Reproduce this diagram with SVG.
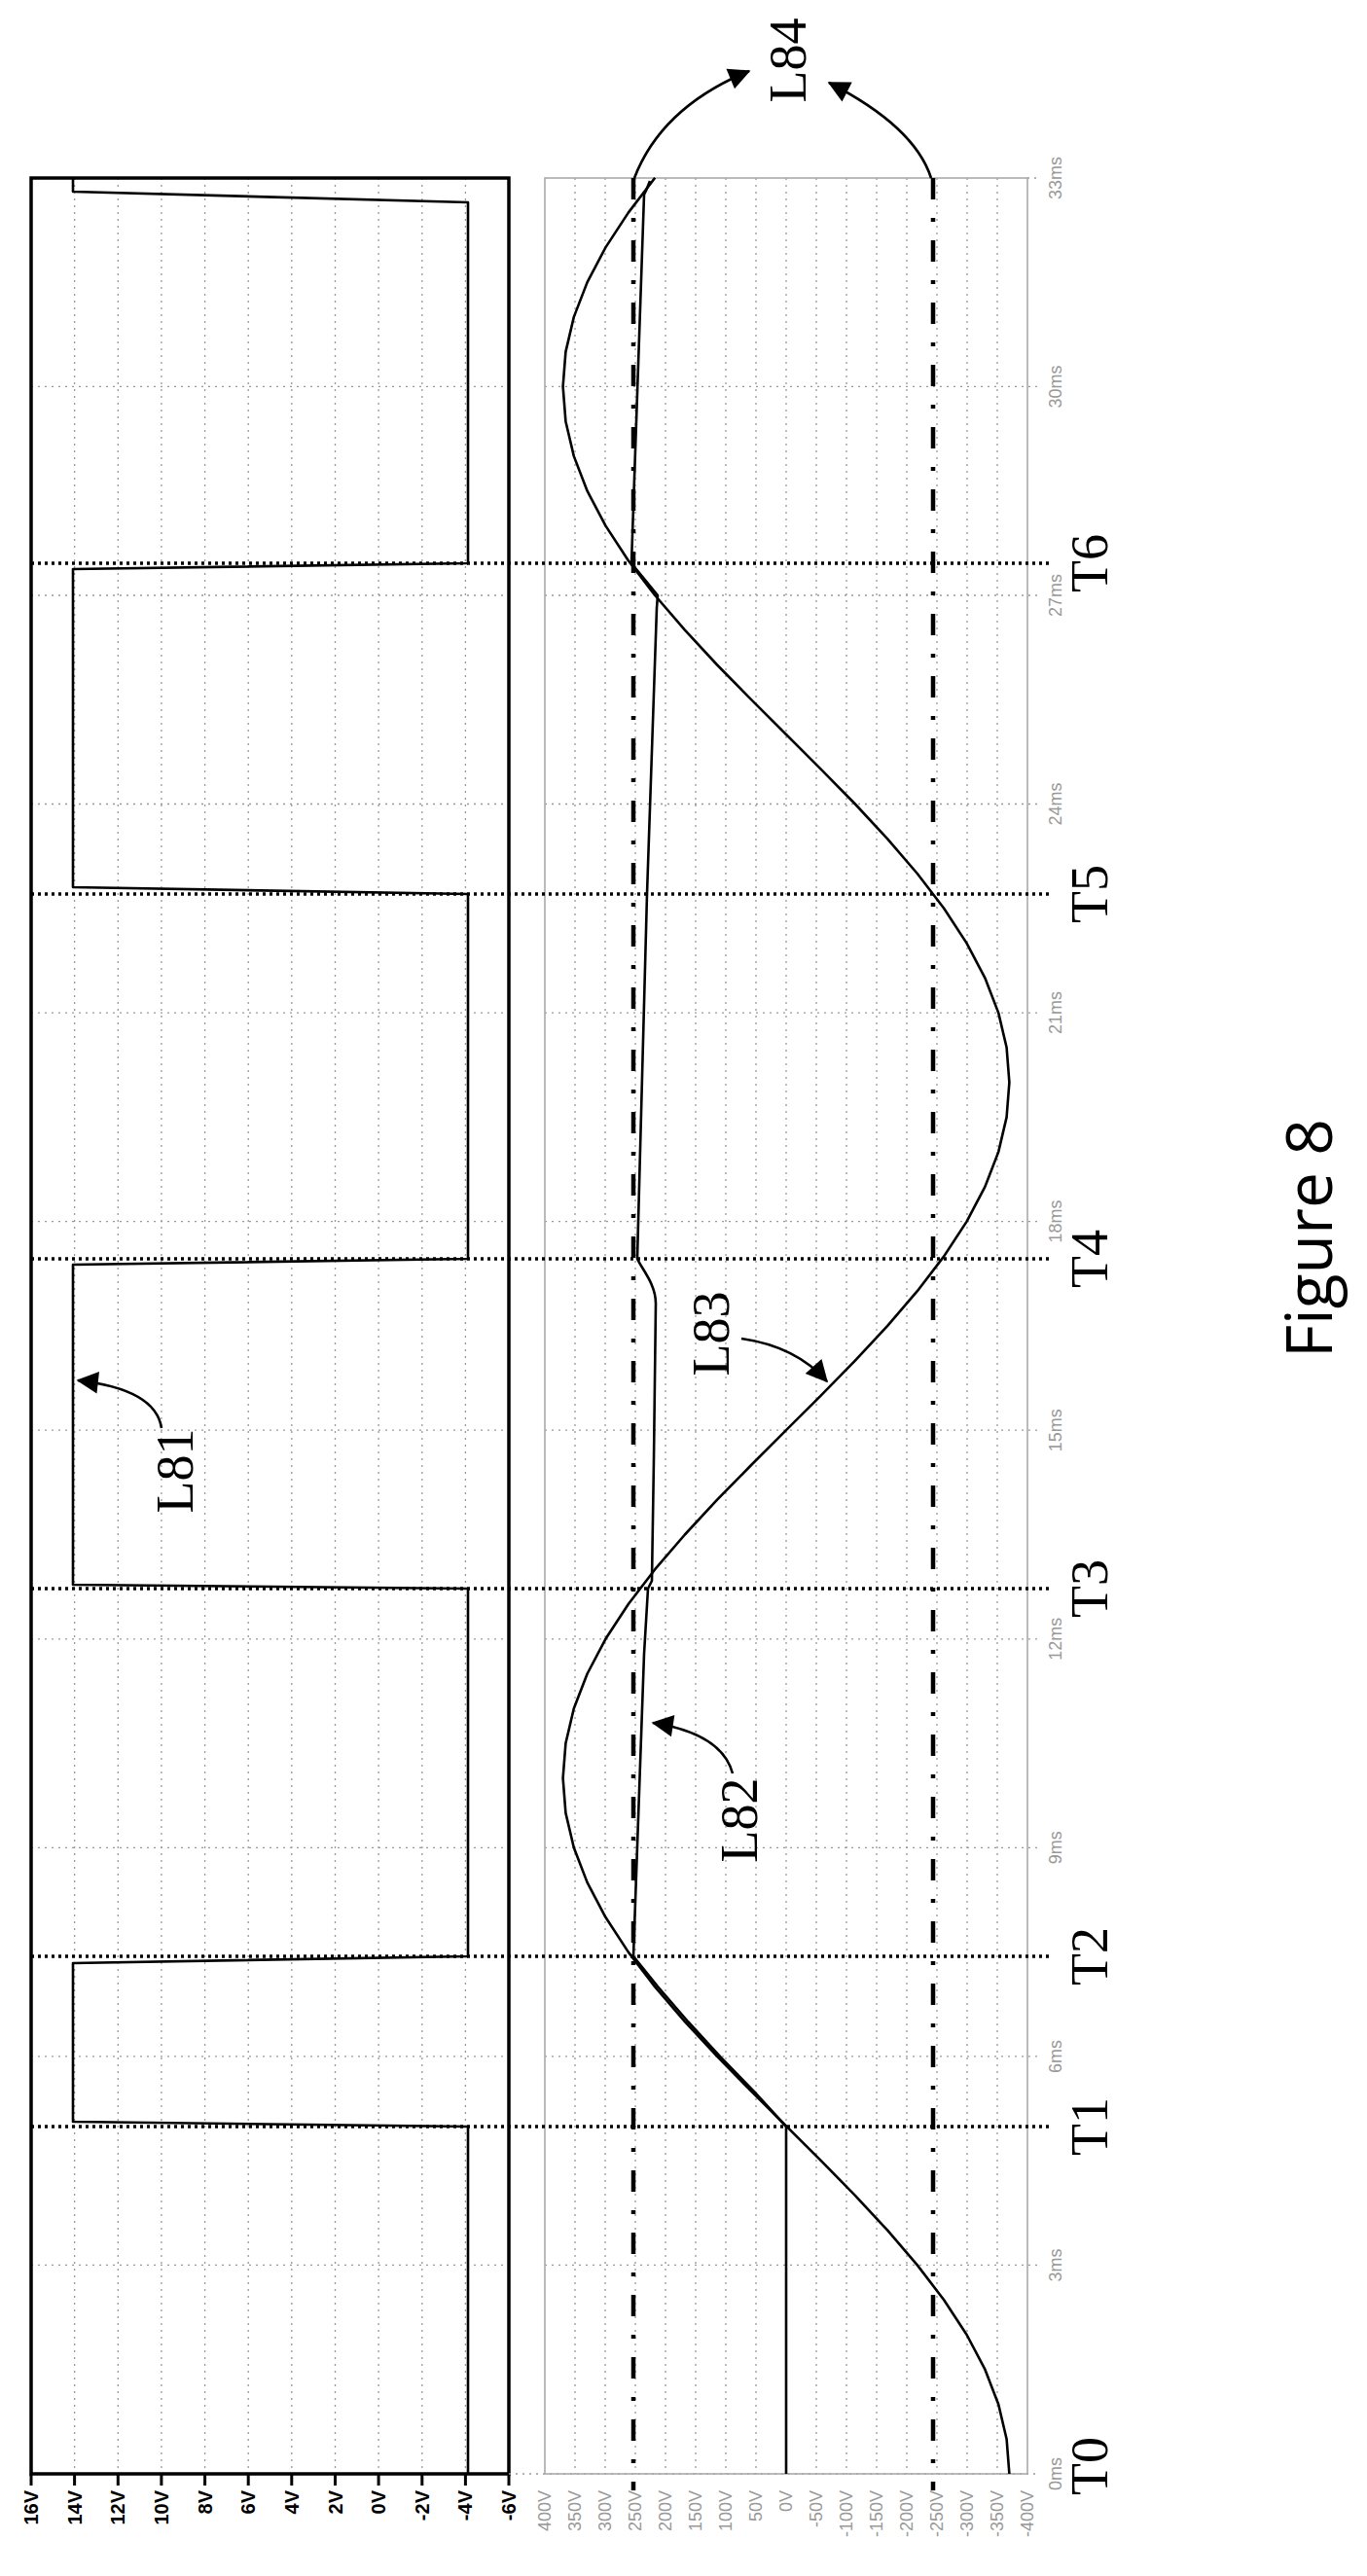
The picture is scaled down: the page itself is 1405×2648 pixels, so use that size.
<svg xmlns="http://www.w3.org/2000/svg" width="1405" height="2648" viewBox="0 0 1405 2648">
<style>
.grid{stroke:#999;stroke-width:1.3;stroke-dasharray:2 5;fill:none}
.ugl{font-family:"Liberation Sans",Arial,sans-serif;font-size:20px;font-weight:bold;fill:#000}
.lgl{font-family:"Liberation Sans",Arial,sans-serif;font-size:18px;fill:#999}
.tl{font-family:"Liberation Serif","Times New Roman",serif;font-size:54px;fill:#000}
.tline{stroke:#000;stroke-width:3.5;stroke-dasharray:3 4;fill:none}
.dd{stroke:#000;stroke-width:4.5;stroke-dasharray:22 19 4 19;fill:none}
.tr{stroke:#000;stroke-width:2.6;fill:none;stroke-linejoin:round}
.arr{stroke:#000;stroke-width:2.6;fill:none;marker-end:url(#ah)}
</style>
<defs>
<marker id="ah" viewBox="0 0 10 10" refX="9" refY="5" markerWidth="7" markerHeight="7" markerUnits="userSpaceOnUse" orient="auto" style="overflow:visible"><path d="M0,0 L10,5 L0,10 z" fill="#000" transform="scale(3.2) translate(-6.5,-3.4)"/></marker>
</defs>
<rect width="1405" height="2648" fill="#fff"/>

<g id="upper-panel">
<g class="grid">
<path d="M76.6,183V2543M121.3,183V2543M165.9,183V2543M210.6,183V2543M255.2,183V2543M299.8,183V2543M344.5,183V2543M389.1,183V2543M433.8,183V2543M478.4,183V2543"/>
<path d="M32,2328.4H523M32,2113.9H523M32,1899.3H523M32,1684.8H523M32,1470.2H523M32,1255.6H523M32,1041.1H523M32,826.5H523M32,612H523M32,397.4H523"/>
</g>
<rect x="32" y="183" width="491" height="2360" fill="none" stroke="#000" stroke-width="3.5"/>
<path d="M32,2543v12M76.6,2543v12M121.3,2543v12M165.9,2543v12M210.6,2543v12M255.2,2543v12M299.8,2543v12M344.5,2543v12M389.1,2543v12M433.8,2543v12M478.4,2543v12M523,2543v12" stroke="#000" stroke-width="3"/>
<g class="ugl" text-anchor="end" dominant-baseline="central">
<text transform="translate(32,2560) rotate(-90)">16V</text>
<text transform="translate(76.6,2560) rotate(-90)">14V</text>
<text transform="translate(121.3,2560) rotate(-90)">12V</text>
<text transform="translate(165.9,2560) rotate(-90)">10V</text>
<text transform="translate(210.6,2560) rotate(-90)">8V</text>
<text transform="translate(255.2,2560) rotate(-90)">6V</text>
<text transform="translate(299.8,2560) rotate(-90)">4V</text>
<text transform="translate(344.5,2560) rotate(-90)">2V</text>
<text transform="translate(389.1,2560) rotate(-90)">0V</text>
<text transform="translate(433.8,2560) rotate(-90)">-2V</text>
<text transform="translate(478.4,2560) rotate(-90)">-4V</text>
<text transform="translate(523,2560) rotate(-90)">-6V</text>
</g>
</g>

<g id="lower-panel">
<g class="grid">
<path d="M591,183V2543M622,183V2543M653,183V2543M684,183V2543M715,183V2543M746,183V2543M777,183V2543M808,183V2543M839,183V2543M870,183V2543M901,183V2543M932,183V2543M963,183V2543M994,183V2543M1025,183V2543"/>
<path d="M560,2328.4H1068M560,2113.9H1068M560,1899.3H1068M560,1684.8H1068M560,1470.2H1068M560,1255.6H1068M560,1041.1H1068M560,826.5H1068M560,612H1068M560,397.4H1068"/>
<path d="M523,2543H1068M1056,183H1068"/>
</g>
<rect x="560" y="183" width="496" height="2360" fill="none" stroke="#aaa" stroke-width="1.6"/>
<g class="lgl" text-anchor="end" dominant-baseline="central">
<text transform="translate(560,2560) rotate(-90)">400V</text>
<text transform="translate(591,2560) rotate(-90)">350V</text>
<text transform="translate(622,2560) rotate(-90)">300V</text>
<text transform="translate(653,2560) rotate(-90)">250V</text>
<text transform="translate(684,2560) rotate(-90)">200V</text>
<text transform="translate(715,2560) rotate(-90)">150V</text>
<text transform="translate(746,2560) rotate(-90)">100V</text>
<text transform="translate(777,2560) rotate(-90)">50V</text>
<text transform="translate(808,2560) rotate(-90)">0V</text>
<text transform="translate(839,2560) rotate(-90)">-50V</text>
<text transform="translate(870,2560) rotate(-90)">-100V</text>
<text transform="translate(901,2560) rotate(-90)">-150V</text>
<text transform="translate(932,2560) rotate(-90)">-200V</text>
<text transform="translate(963,2560) rotate(-90)">-250V</text>
<text transform="translate(994,2560) rotate(-90)">-300V</text>
<text transform="translate(1025,2560) rotate(-90)">-350V</text>
<text transform="translate(1056,2560) rotate(-90)">-400V</text>
</g>
<g class="lgl" text-anchor="middle" dominant-baseline="central">
<text transform="translate(1085,2543) rotate(-90)">0ms</text>
<text transform="translate(1085,2328.4) rotate(-90)">3ms</text>
<text transform="translate(1085,2113.9) rotate(-90)">6ms</text>
<text transform="translate(1085,1899.3) rotate(-90)">9ms</text>
<text transform="translate(1085,1684.8) rotate(-90)">12ms</text>
<text transform="translate(1085,1470.2) rotate(-90)">15ms</text>
<text transform="translate(1085,1255.6) rotate(-90)">18ms</text>
<text transform="translate(1085,1041.1) rotate(-90)">21ms</text>
<text transform="translate(1085,826.5) rotate(-90)">24ms</text>
<text transform="translate(1085,612) rotate(-90)">27ms</text>
<text transform="translate(1085,397.4) rotate(-90)">30ms</text>
<text transform="translate(1085,183) rotate(-90)">33ms</text>
</g>
</g>

<g id="time-markers">
<path class="tline" d="M32,2186H1078M32,2011H1078M32,1633H1078M32,1294H1078M32,919H1078M32,579H1078"/>
<g class="tl" text-anchor="middle" dominant-baseline="central">
<text transform="translate(1120,2535) rotate(-90)">T0</text>
<text transform="translate(1120,2186) rotate(-90)">T1</text>
<text transform="translate(1120,2011) rotate(-90)">T2</text>
<text transform="translate(1120,1633) rotate(-90)">T3</text>
<text transform="translate(1120,1294) rotate(-90)">T4</text>
<text transform="translate(1120,919) rotate(-90)">T5</text>
<text transform="translate(1120,579) rotate(-90)">T6</text>
</g>
</g>

<g id="L84-lines">
<path class="dd" d="M651,183V2560M959,183V2560"/>
</g>

<g id="L81-trace">
<path class="tr" d="M481,2543V2186L75,2181V2018L481,2011V1633L75,1629V1300L481,1294V919L75,912V585L481,579V208L75,197V183"/>
</g>

<g id="L83-trace">
<polyline class="tr" points="1037.4,2543 1034.6,2507.2 1026.2,2471.5 1012.4,2435.7 993.6,2400 970.2,2364.2 942.8,2328.4 912.2,2292.7 878.9,2256.9 843.9,2221.2 808,2185.4 772.1,2149.6 737.1,2113.9 703.9,2078.1 673.2,2042.4 645.8,2006.6 622.4,1970.8 603.6,1935.1 589.8,1899.3 581.4,1863.6 578.6,1827.8 581.4,1792 589.8,1756.3 603.6,1720.5 622.4,1684.8 645.8,1649 673.2,1613.2 703.9,1577.5 737.1,1541.7 772.1,1506 808,1470.2 843.9,1434.4 878.9,1398.7 912.2,1362.9 942.8,1327.2 970.2,1291.4 993.6,1255.6 1012.4,1219.9 1026.2,1184.1 1034.6,1148.4 1037.4,1112.6 1034.6,1076.8 1026.2,1041.1 1012.4,1005.3 993.6,969.6 970.2,933.8 942.8,898 912.2,862.3 878.9,826.5 843.9,790.8 808,755 772.1,719.2 737.1,683.5 703.9,647.7 673.2,612 645.8,576.2 622.4,540.4 603.6,504.7 589.8,468.9 581.4,433.2 578.6,397.4 581.4,361.6 589.8,325.9 603.6,290.1 622.4,254.4 645.8,218.6 673.2,182.8"/>
</g>

<g id="L82-trace">
<path class="tr" d="M808,2543V2186L775,2150L740,2114L707,2078L676,2042L651,2011L662,1700L666,1633L670,1625L672,1500L674,1340C674,1320 660,1305 655,1294L665,919L675,625L676,612L649,579L662,200L664,196L668,186"/>
</g>

<g id="labels">
<path class="arr" d="M166,1468 Q160,1428 80,1419"/>
<path class="arr" d="M753,1823 Q742,1782 671,1771"/>
<path class="arr" d="M762,1376 Q818,1384 850,1420"/>
<path class="arr" d="M652,183 Q680,110 770,73"/>
<path class="arr" d="M957,183 Q940,130 852,85"/>
<g class="tl" text-anchor="middle" dominant-baseline="central">
<text transform="translate(180,1512) rotate(-90)">L81</text>
<text transform="translate(760,1871) rotate(-90)">L82</text>
<text transform="translate(731,1371) rotate(-90)">L83</text>
<text transform="translate(810,62) rotate(-90)">L84</text>
</g>
</g>

<g id="caption">
<text transform="translate(1343,1273) rotate(-90)" text-anchor="middle" dominant-baseline="central" font-family="'Open Sans','Noto Sans',sans-serif" font-size="66">Figure 8</text>
</g>
</svg>
